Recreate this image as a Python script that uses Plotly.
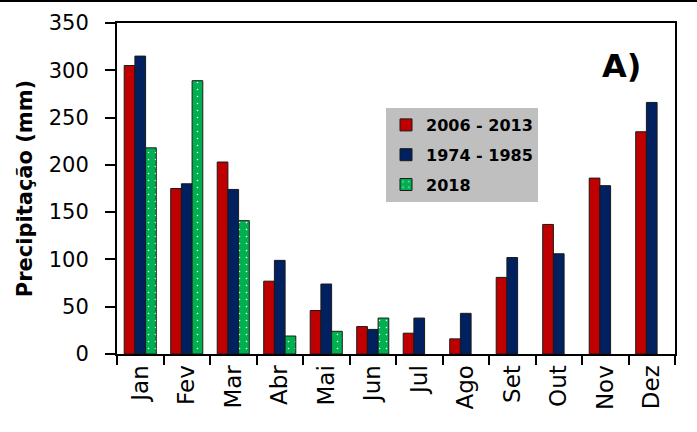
import plotly.graph_objects as go

months = ["Jan", "Fev", "Mar", "Abr", "Mai", "Jun", "Jul", "Ago", "Set", "Out", "Nov", "Dez"]
s_2006_2013 = [305, 175, 203, 77, 46, 29, 22, 16, 81, 137, 186, 235]
s_1974_1985 = [315, 180, 174, 99, 74, 26, 38, 43, 102, 106, 178, 266]
s_2018 = [218, 289, 141, 19, 24, 38, None, None, None, None, None, None]
names = ["2006 - 2013", "1974 - 1985", "2018"]

W, H = 697, 432
L, R, T, B = 117, 675, 23, 354
FONT = "DejaVu Sans"

fig = go.Figure()
fig.add_trace(go.Bar(x=months, y=s_2006_2013, name=names[0], legendgroup="a",
                     marker=dict(color="#C00000", line=dict(color="#1a1a1a", width=1))))
fig.add_trace(go.Bar(x=months, y=s_1974_1985, name=names[1], legendgroup="b",
                     marker=dict(color="#002060", line=dict(color="#1a1a1a", width=1))))
fig.add_trace(go.Bar(x=months, y=s_2018, name=names[2], legendgroup="c",
                     marker=dict(color="#00B050", line=dict(color="#1a1a1a", width=1),
                                 pattern=dict(shape=".", fgcolor="white", bgcolor="#00B050",
                                              size=7, solidity=0.04, fillmode="replace"))))

fig.update_layout(
    width=W, height=H,
    margin=dict(l=L, r=W - R, t=T, b=H - B, pad=0),
    paper_bgcolor="white", plot_bgcolor="white",
    barmode="group", bargap=0.31, bargroupgap=0,
    font=dict(family=FONT, color="black"),
    showlegend=True,
    legend=dict(x=(386 - L) / (R - L), y=(B - 108) / (B - T), xanchor="left", yanchor="top",
                bgcolor="#BFBFBF", font=dict(family=FONT, size=16, color="black", weight="bold"),
                itemwidth=30, tracegroupgap=6),
    xaxis=dict(type="category", tickson="boundaries", ticks="outside", ticklen=9, tickwidth=2,
               tickcolor="black", showline=True, linecolor="black", linewidth=2, mirror=True,
               tickangle=-90, tickfont=dict(family=FONT, size=23, color="black"),
               showgrid=False),
    yaxis=dict(range=[0, 350], dtick=50, ticks="outside", ticklen=10, tickwidth=2,
               tickcolor="black", showline=True, linecolor="black", linewidth=2, mirror=True,
               ticklabelstandoff=12,
               tickfont=dict(family=FONT, size=21, color="black"), showgrid=False, zeroline=False,
               title=dict(text="Precipitação (mm)", font=dict(family=FONT, size=21, weight="bold"),
                          standoff=10)),
)

fig.add_annotation(text="A)", xref="paper", yref="paper",
                   x=(621 - L) / (R - L), y=(B - 66) / (B - T), xanchor="center", yanchor="middle",
                   showarrow=False, font=dict(family=FONT, size=32, weight="bold", color="black"))

# top border line of the original image
fig.add_shape(type="line", xref="paper", yref="paper",
              x0=-L / (R - L), x1=(W - L) / (R - L), y0=(B - 1) / (B - T), y1=(B - 1) / (B - T),
              line=dict(color="black", width=2))

fig.write_html("out.html")
